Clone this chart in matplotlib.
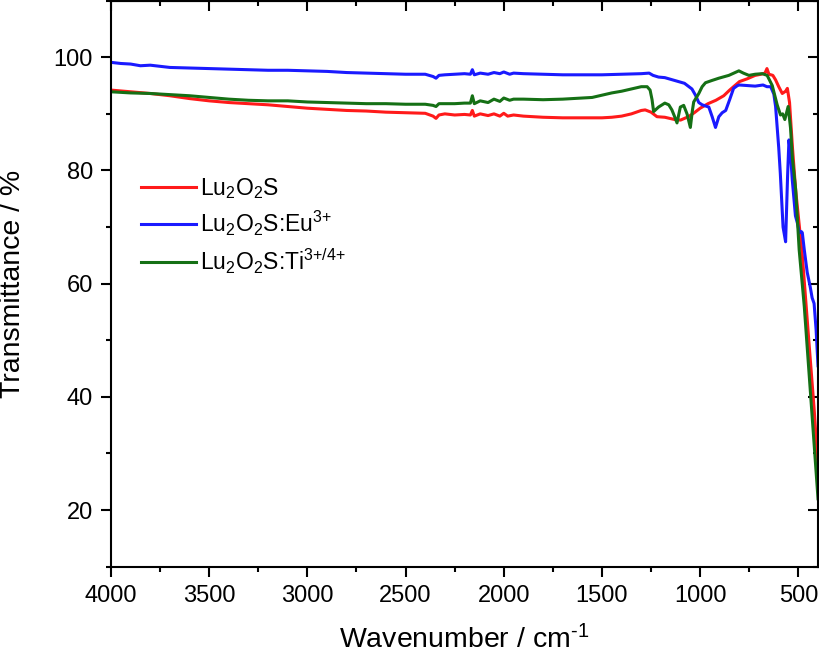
import matplotlib
matplotlib.use('Agg')
import matplotlib.pyplot as plt
from matplotlib.ticker import MultipleLocator

plt.rcParams['font.family'] = ['Liberation Sans', 'DejaVu Sans']
plt.rcParams['mathtext.fontset'] = 'custom'
plt.rcParams['mathtext.rm'] = 'Liberation Sans'
plt.rcParams['mathtext.it'] = 'Liberation Sans:italic'
plt.rcParams['mathtext.default'] = 'regular'

wn_red = [4000, 3900, 3800, 3700, 3600, 3500, 3400, 3300, 3200, 3100, 3000, 2900, 2800, 2700,
          2600, 2500, 2400, 2360, 2345, 2330, 2300, 2250, 2200, 2170, 2160, 2150, 2120, 2080,
          2050, 2020, 2000, 1980, 1950, 1900, 1800, 1700, 1600, 1500, 1450, 1400, 1350, 1300,
          1280, 1250, 1220, 1180, 1130, 1100, 1060, 1030, 1000, 960, 920, 880, 850, 800, 760,
          720, 690, 670, 660, 650, 630, 616, 600, 582, 565, 556, 545, 530, 514, 480, 447, 420, 400]
t_red = [94.2, 93.9, 93.6, 93.2, 92.7, 92.3, 92.0, 91.8, 91.6, 91.3, 91.0, 90.8, 90.6, 90.5,
         90.3, 90.2, 90.1, 89.6, 89.2, 89.8, 90.0, 89.8, 89.9, 89.8, 90.6, 89.6, 90.0, 89.7,
         90.0, 89.6, 90.1, 89.6, 89.8, 89.6, 89.4, 89.3, 89.3, 89.3, 89.4, 89.6, 90.0, 90.6,
         90.7, 90.3, 89.5, 89.4, 89.0, 88.9, 89.5, 90.2, 91.0, 91.8, 92.4, 93.2, 94.2, 95.7, 96.2,
         96.8, 97.0, 97.2, 98.0, 97.0, 96.8, 96.0, 94.8, 93.6, 94.0, 94.5, 92.0, 84.0, 76.6, 65.0,
         50.0, 38.0, 27.7]

wn_blue = [4000, 3950, 3900, 3850, 3800, 3700, 3600, 3500, 3400, 3300, 3200, 3100, 3000, 2900,
           2800, 2700, 2600, 2500, 2400, 2360, 2345, 2330, 2300, 2250, 2200, 2170, 2160, 2150,
           2120, 2080, 2050, 2020, 2000, 1970, 1950, 1900, 1800, 1700, 1600, 1500, 1400, 1300,
           1260, 1240, 1212, 1180, 1140, 1110, 1080, 1042, 1024, 1007, 990, 956, 939, 922, 905,
           888, 870, 850, 830, 810, 800, 760, 720, 680, 660, 641, 625, 616, 600, 592, 578, 565,
           555, 548, 540, 531, 515, 505, 495, 485, 480, 470, 455, 440, 430, 420, 410, 400]
t_blue = [99.1, 98.9, 98.8, 98.5, 98.6, 98.2, 98.1, 98.0, 97.9, 97.8, 97.7, 97.7, 97.6, 97.5,
          97.3, 97.2, 97.1, 97.0, 97.0, 96.6, 96.3, 96.8, 96.9, 97.0, 97.1, 97.0, 97.8, 96.9,
          97.2, 97.0, 97.3, 97.1, 97.4, 97.0, 97.2, 97.1, 97.0, 96.9, 96.9, 96.9, 97.0, 97.1,
          97.2, 96.8, 96.5, 96.4, 96.0, 95.7, 95.4, 94.4, 93.3, 92.0, 91.6, 91.2, 89.5, 87.6, 89.5,
          90.2, 90.6, 92.5, 94.5, 95.0, 95.1, 95.0, 94.9, 95.1, 94.8, 94.8, 93.5, 91.3, 84.0, 79.5,
          70.0, 67.4, 79.0, 85.4, 83.0, 78.3, 72.0, 70.7, 69.0, 69.2, 69.0, 66.0, 62.0, 59.5, 57.5,
          56.5, 52.0, 45.5]

wn_green = [4000, 3900, 3800, 3700, 3600, 3500, 3400, 3300, 3200, 3100, 3000, 2900, 2800, 2700,
            2600, 2500, 2400, 2360, 2345, 2330, 2300, 2250, 2200, 2170, 2160, 2150, 2120, 2080,
            2050, 2020, 2000, 1970, 1950, 1900, 1800, 1700, 1600, 1550, 1500, 1450, 1400, 1350,
            1300, 1270, 1255, 1245, 1237, 1212, 1180, 1160, 1144, 1130, 1118, 1101, 1084, 1067,
            1050, 1040, 1033, 1007, 990, 973, 940, 905, 854, 803, 780, 752, 720, 684, 659, 633,
            608, 591, 580, 569, 552, 540, 530, 514, 496, 470, 437, 400]
t_green = [93.9, 93.7, 93.6, 93.4, 93.2, 92.9, 92.6, 92.4, 92.3, 92.3, 92.1, 92.0, 91.9, 91.8,
           91.8, 91.7, 91.7, 91.5, 91.3, 91.8, 91.8, 91.8, 91.9, 91.9, 93.2, 91.8, 92.3, 92.0,
           92.6, 92.2, 92.8, 92.4, 92.6, 92.6, 92.5, 92.6, 92.8, 92.9, 93.3, 93.7, 94.0, 94.4,
           94.8, 94.8, 94.2, 92.5, 90.4, 91.2, 91.9, 91.6, 90.7, 89.5, 88.4, 91.2, 91.5, 90.0,
           87.6, 90.5, 92.1, 93.6, 94.8, 95.5, 95.9, 96.3, 96.8, 97.6, 97.2, 96.8, 97.0, 97.1, 96.8,
           95.0, 91.6, 89.8, 90.0, 89.0, 91.3, 87.5, 82.0, 76.7, 66.0, 56.0, 40.0, 22.0]

labels = [r'Lu$_2$O$_2$S', r'Lu$_2$O$_2$S:Eu$^{3{+}}$', r'Lu$_2$O$_2$S:Ti$^{3{+}/4{+}}$']
colors = ['#ff1a1a', '#1a1aff', '#157015']

fig = plt.figure(figsize=(8.19, 6.54), dpi=100)
ax = fig.add_axes([0.1355, 0.1335, 0.8633, 0.8655])

ax.plot(wn_red, t_red, color=colors[0], lw=2.2, label=labels[0])
ax.plot(wn_blue, t_blue, color=colors[1], lw=2.2, label=labels[1])
ax.plot(wn_green, t_green, color=colors[2], lw=2.2, label=labels[2])

ax.set_xlim(4000, 400)
ax.set_ylim(10, 110)
ax.xaxis.set_major_locator(MultipleLocator(500))
ax.xaxis.set_minor_locator(MultipleLocator(250))
ax.yaxis.set_major_locator(MultipleLocator(20))
ax.yaxis.set_minor_locator(MultipleLocator(10))

for s in ax.spines.values():
    s.set_linewidth(1.5)
ax.tick_params(which='both', direction='out', width=1.5, labelsize=17, top=False, right=False)
ax.tick_params(which='major', length=7)
ax.tick_params(which='minor', length=3.5)
ax.tick_params(axis='x', which='major', pad=6.5)
ax.tick_params(axis='y', which='major', pad=6)
# ticks internos no topo e na direita
ax2 = ax.secondary_xaxis('top')
ax2.xaxis.set_major_locator(MultipleLocator(500))
ax2.xaxis.set_minor_locator(MultipleLocator(250))
ax2.tick_params(which='both', direction='in', width=1.5, labeltop=False)
ax2.tick_params(which='major', length=7)
ax2.tick_params(which='minor', length=3.5)
ax3 = ax.secondary_yaxis('right')
ax3.yaxis.set_major_locator(MultipleLocator(20))
ax3.yaxis.set_minor_locator(MultipleLocator(10))
ax3.tick_params(which='both', direction='in', width=1.5, labelright=False)
ax3.tick_params(which='major', length=7)
ax3.tick_params(which='minor', length=3.5)

ax.set_xlabel(r'Wavenumber / cm$^{\text{-}1}$', fontsize=20.5, labelpad=13)
ax.set_ylabel('Transmittance / %', fontsize=20.5, labelpad=20)

ax.legend(loc='upper left', bbox_to_anchor=(0.043, 0.69), frameon=False, fontsize=16.5,
          handlelength=2.4, handletextpad=0.15, borderpad=0, borderaxespad=0, labelspacing=0.35)

plt.savefig('out.png', dpi=100)
